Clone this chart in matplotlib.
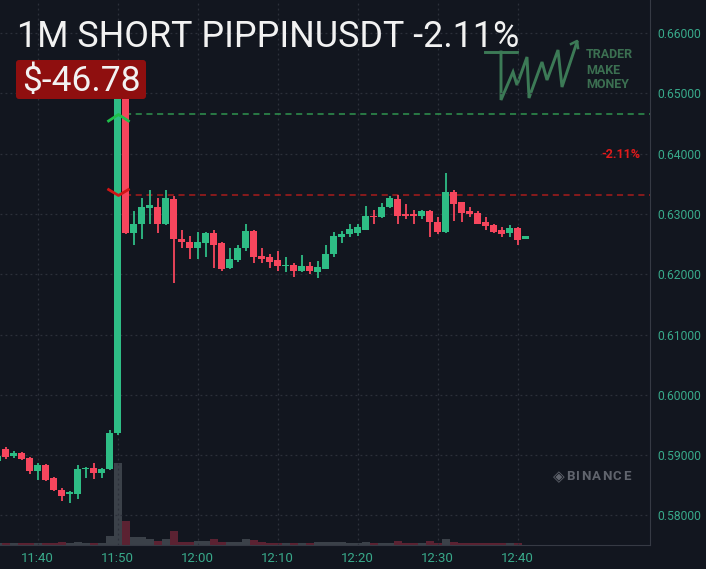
import matplotlib.pyplot as plt
import numpy as np
from matplotlib.patches import FancyBboxPatch
from matplotlib.lines import Line2D
from matplotlib.path import Path

plt.rcParams['font.family'] = ['Roboto', 'DejaVu Sans']

# 1 minute candles, first one at 11:35 (minutes after 11:00)
first_minute = 35
opens = [0.5890, 0.5910, 0.5898, 0.5903, 0.5895, 0.5874, 0.5883, 0.5862, 0.5842, 0.5835,
         0.5835, 0.5877, 0.5879, 0.5870, 0.5877, 0.5936, 0.6499, 0.6269, 0.6283, 0.6309,
         0.6312, 0.6283, 0.6325, 0.6259, 0.6254, 0.6243, 0.6251, 0.6269, 0.6251, 0.6210,
         0.6223, 0.6243, 0.6271, 0.6230, 0.6228, 0.6223, 0.6213, 0.6216, 0.6205, 0.6213,
         0.6204, 0.6209, 0.6234, 0.6261, 0.6266, 0.6269, 0.6274, 0.6296, 0.6294, 0.6311,
         0.6325, 0.6299, 0.6299, 0.6297, 0.6304, 0.6286, 0.6270, 0.6337, 0.6319, 0.6304,
         0.6302, 0.6287, 0.6282, 0.6273, 0.6268, 0.6277, 0.6259]
highs = [0.5903, 0.5913, 0.5907, 0.5905, 0.5897, 0.5887, 0.5885, 0.5864, 0.5845, 0.5840,
         0.5883, 0.5880, 0.5887, 0.5879, 0.5941, 0.6514, 0.6501, 0.6305, 0.6327, 0.6340,
         0.6327, 0.6340, 0.6330, 0.6274, 0.6263, 0.6270, 0.6270, 0.6273, 0.6254, 0.6244,
         0.6248, 0.6284, 0.6274, 0.6243, 0.6233, 0.6238, 0.6228, 0.6218, 0.6231, 0.6221,
         0.6222, 0.6248, 0.6270, 0.6271, 0.6284, 0.6284, 0.6313, 0.6307, 0.6318, 0.6329,
         0.6332, 0.6316, 0.6306, 0.6307, 0.6306, 0.6294, 0.6367, 0.6339, 0.6320, 0.6311,
         0.6304, 0.6294, 0.6284, 0.6279, 0.6281, 0.6279, 0.6264]
lows = [0.5888, 0.5893, 0.5895, 0.5892, 0.5869, 0.5859, 0.5857, 0.5840, 0.5824, 0.5821,
        0.5827, 0.5862, 0.5860, 0.5862, 0.5875, 0.5934, 0.6266, 0.6248, 0.6259, 0.6284,
        0.6268, 0.6282, 0.6185, 0.6244, 0.6226, 0.6226, 0.6228, 0.6211, 0.6206, 0.6208,
        0.6221, 0.6239, 0.6218, 0.6218, 0.6210, 0.6205, 0.6203, 0.6196, 0.6203, 0.6200,
        0.6193, 0.6208, 0.6228, 0.6251, 0.6261, 0.6263, 0.6273, 0.6284, 0.6293, 0.6309,
        0.6284, 0.6291, 0.6284, 0.6291, 0.6261, 0.6266, 0.6269, 0.6289, 0.6286, 0.6294,
        0.6283, 0.6274, 0.6269, 0.6262, 0.6262, 0.6249, 0.6258]
closes = [0.5898, 0.5897, 0.5903, 0.5893, 0.5874, 0.5883, 0.5859, 0.5842, 0.5832, 0.5839,
          0.5877, 0.5879, 0.5870, 0.5877, 0.5936, 0.6499, 0.6269, 0.6284, 0.6311, 0.6314,
          0.6283, 0.6326, 0.6259, 0.6254, 0.6243, 0.6253, 0.6269, 0.6249, 0.6208, 0.6225,
          0.6243, 0.6271, 0.6228, 0.6225, 0.6220, 0.6213, 0.6216, 0.6205, 0.6213, 0.6205,
          0.6212, 0.6234, 0.6263, 0.6266, 0.6275, 0.6278, 0.6296, 0.6294, 0.6311, 0.6327,
          0.6297, 0.6296, 0.6296, 0.6304, 0.6286, 0.6270, 0.6337, 0.6317, 0.6302, 0.6299,
          0.6284, 0.6280, 0.6270, 0.6267, 0.6277, 0.6256, 0.6263]
volumes = [20, 20, 20, 20, 20, 20, 25, 25, 27, 20,
           33, 20, 20, 25, 90, 820, 240, 77, 77, 57,
           40, 57, 143, 27, 27, 40, 40, 60, 33, 27,
           27, 60, 50, 27, 25, 25, 25, 25, 25, 25,
           30, 30, 30, 30, 25, 25, 30, 25, 25, 25,
           45, 25, 25, 25, 40, 25, 63, 30, 25, 25,
           25, 20, 20, 20, 20, 20, 5]

time_ticks = [40, 50, 60, 70, 80, 90, 100]
time_labels = ['11:40', '11:50', '12:00', '12:10', '12:20', '12:30', '12:40']
price_ticks = [0.58, 0.59, 0.60, 0.61, 0.62, 0.63, 0.64, 0.65, 0.66]

entry_minute = 50
entry_price = 0.6466
exit_price = 0.6331
title = '1M SHORT PIPPINUSDT -2.11%'
pnl = '$-46.78'
pct = '-2.11%'

bg = '#12161f'
up = '#2ebd85'
down = '#f6465d'
label_col = '#38a98a'
grid_col = '#2c303a'

W, H = 706, 569
fig = plt.figure(figsize=(W / 100, H / 100), dpi=100, facecolor=bg)
ax = fig.add_axes([0, 24 / H, 650 / W, 545 / H])
vax = ax.twinx()
ax.set_zorder(2)
ax.patch.set_visible(False)
vax.set_zorder(1)
vax.patch.set_facecolor(bg)

x = np.arange(len(opens)) + first_minute
o = np.array(opens)
c = np.array(closes)
is_up = c >= o
colors = np.where(is_up, up, down)

# volume
vcols = np.where(is_up, '#3b4149', '#5b2232')
vax.bar(x, volumes, width=1.0, color=vcols, linewidth=0)
vax.set_ylim(0, max(volumes) * 545 / 82)
vax.set_yticks([])

# candles
ax.vlines(x, lows, highs, colors=colors, linewidth=1.3, zorder=3)
body = np.maximum(np.abs(c - o), 0.00006)
ax.bar(x, body, bottom=np.minimum(o, c), width=0.8, color=colors, linewidth=0, zorder=4)

# trade lines
ax.hlines(entry_price, entry_minute + 0.9, 200, colors='#2f944f', linestyles=(0, (4, 3)), linewidth=1.1, zorder=2)
ax.hlines(exit_price, entry_minute + 0.9, 200, colors='#a81c1c', linestyles=(0, (4, 3)), linewidth=1.1, zorder=2)
up_chev = Path([(-1, -0.65), (0, 0), (1, -0.65)], [Path.MOVETO, Path.LINETO, Path.LINETO])
dn_chev = Path([(-1, 0.6), (0, 0), (1, 0.6)], [Path.MOVETO, Path.LINETO, Path.LINETO])
ax.plot([entry_minute], [entry_price], marker=up_chev, markersize=16, mfc='none', mec='#1fbf4a', mew=2.0, zorder=6)
ax.plot([entry_minute], [exit_price], marker=dn_chev, markersize=16, mfc='none', mec='#d01515', mew=2.0, zorder=6)
ax.text(640 / 650, (545 - 154) / 545, pct, transform=ax.transAxes, ha='right', va='center',
        color='#e01b1b', fontsize=9, fontweight='bold')

ax.set_xlim(35.31, 116.56)
ax.set_ylim(0.57510, 0.66546)
ax.set_xticks(time_ticks)
ax.set_xticklabels(time_labels)
ax.set_yticks(price_ticks)
ax.set_yticklabels([f'{p:.5f}' for p in price_ticks])
ax.yaxis.tick_right()
ax.tick_params(axis='y', length=0, pad=5.5, labelsize=8.7, labelcolor=label_col)
ax.tick_params(axis='x', length=0, pad=5, labelsize=9.5, labelcolor=label_col)
ax.grid(True, color=grid_col, linestyle=(0, (1.5, 2.5)), linewidth=0.9)
for s in ['left', 'top']:
    ax.spines[s].set_visible(False)
    vax.spines[s].set_visible(False)
for s in ['right', 'bottom']:
    ax.spines[s].set_color('#363a44')
    vax.spines[s].set_visible(False)

# header
def px(xp, yp):
    return xp / 100, (H - yp) / 100

fig.text(*px(17, 47), title, transform=fig.dpi_scale_trans, color='#f2f2f2', fontsize=25.8, va='baseline')
box = FancyBboxPatch(px(18, 97), 1.26, 0.35, boxstyle='round,pad=0.02,rounding_size=0.03',
                     transform=fig.dpi_scale_trans, fc='#8f0f0f', ec='none', zorder=5)
fig.patches.append(box)
fig.text(*px(22, 91), pnl, transform=fig.dpi_scale_trans, color='#f2f2f2', fontsize=25.5, va='baseline', zorder=6)

# logo
zig = [(501, 52), (501, 100), (513, 72), (517, 85), (527, 57), (529, 98), (542, 62),
       (547, 80), (558, 50), (562, 87), (577, 42)]
logo_col = '#3c7a56'
fig.add_artist(Line2D([p[0] / 100 for p in zig], [(H - p[1]) / 100 for p in zig],
                      transform=fig.dpi_scale_trans, color=logo_col, lw=2.1, solid_joinstyle='miter'))
fig.add_artist(Line2D([485 / 100, 517 / 100], [(H - 52) / 100] * 2, transform=fig.dpi_scale_trans, color=logo_col, lw=2.1))
fig.add_artist(Line2D([571 / 100, 577 / 100, 578 / 100], [(H - 44) / 100, (H - 41) / 100, (H - 48) / 100],
                      transform=fig.dpi_scale_trans, color=logo_col, lw=1.8))
for word, yy in [('TRADER', 55), ('MAKE', 70), ('MONEY', 84)]:
    fig.text(*px(586, yy), word, transform=fig.dpi_scale_trans, color='#3b6f51', fontsize=9,
             fontweight='bold', va='center')

# watermark, letter spaced
wm_col = '#60646d'
fig.text(*px(559, 477), '\u25c8', transform=fig.dpi_scale_trans, color=wm_col, fontsize=11,
         ha='center', va='center', family='DejaVu Sans')
renderer = fig.canvas.get_renderer()
cursor = 566
for ch in 'BINANCE':
    t = fig.text(*px(cursor, 477), ch, transform=fig.dpi_scale_trans, color=wm_col, fontsize=9.5,
                 fontweight='bold', ha='left', va='center')
    cursor += t.get_window_extent(renderer).width + 1.3

fig.savefig('out.png', dpi=100, facecolor=bg)
